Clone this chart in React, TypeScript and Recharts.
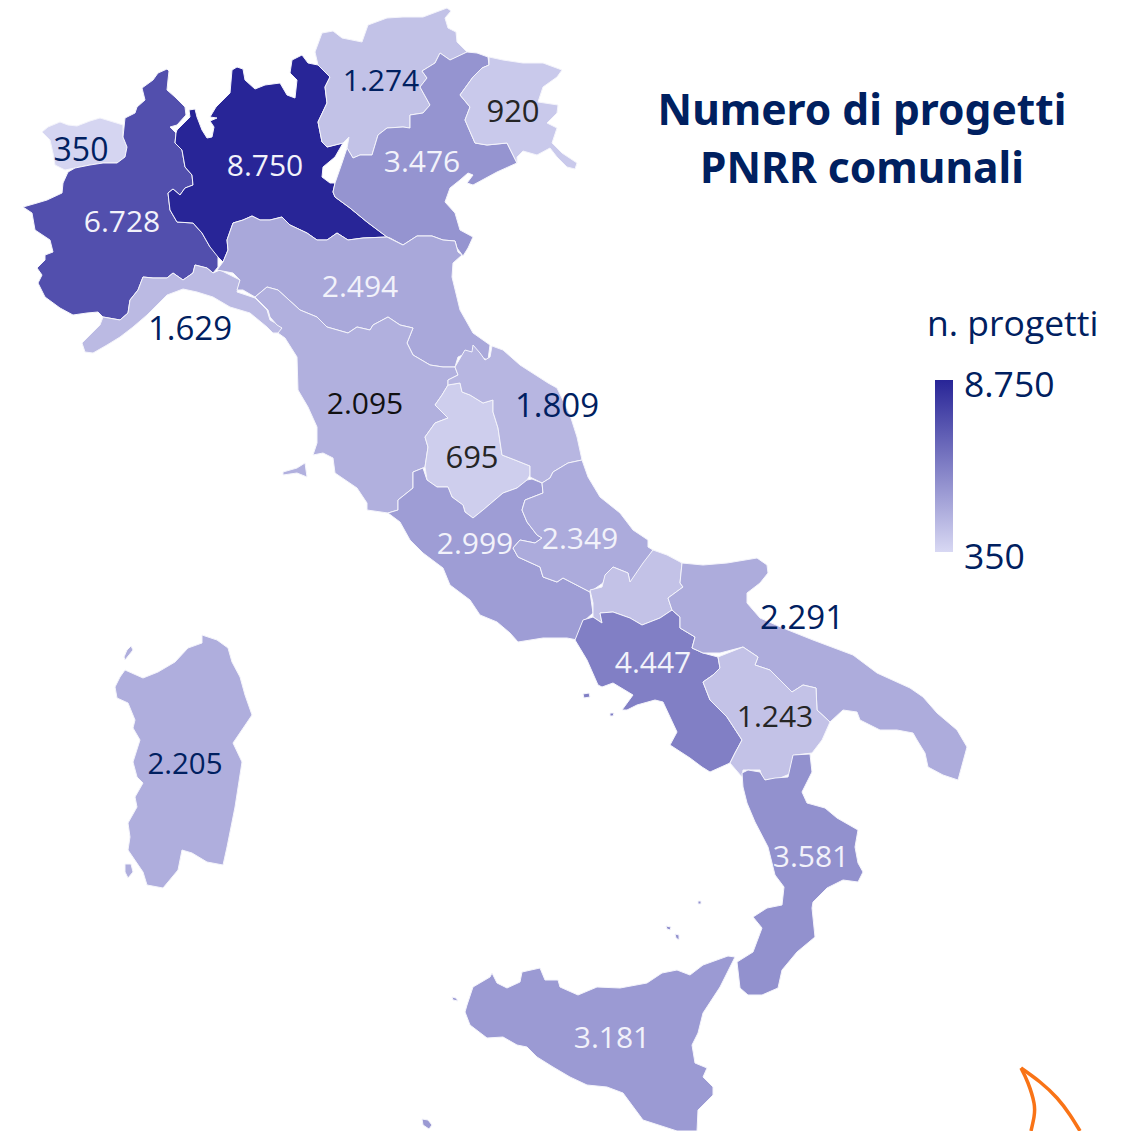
import { ScatterChart, Scatter, XAxis, YAxis, ReferenceArea } from "recharts";

type Pt = [number, number];

const aosta: Pt[] = [[42,132],[48,127],[60,122],[68,125],[77,126],[90,121],[100,118],[110,121],[123,125],[123,137],[127,147],[125,157],[117,163],[103,163],[90,165],[75,168],[65,170],[55,165],[53,153],[50,140],[42,132]];
const piemonte: Pt[] = [[167,69],[169,71],[168,80],[167,90],[175,97],[185,107],[186,115],[177,125],[170,127],[176,133],[175,143],[182,150],[185,167],[192,175],[193,185],[185,188],[180,195],[173,189],[168,193],[170,210],[177,222],[193,223],[202,233],[210,247],[218,255],[218,267],[213,273],[207,268],[195,265],[193,273],[183,280],[173,273],[167,278],[153,278],[143,277],[138,290],[130,300],[128,313],[120,320],[103,317],[98,312],[87,313],[73,315],[60,308],[45,297],[38,283],[42,275],[37,268],[45,260],[45,255],[53,252],[50,240],[35,230],[32,213],[23,207],[37,203],[47,200],[62,193],[63,183],[68,172],[75,168],[90,165],[103,163],[117,163],[125,157],[127,147],[123,137],[125,118],[135,113],[137,107],[145,100],[142,88],[153,80],[158,73],[167,69]];
const lombardia: Pt[] = [[177,130],[185,122],[190,117],[189,110],[195,109],[197,117],[202,130],[207,138],[212,137],[214,127],[210,121],[217,118],[210,117],[216,107],[230,93],[232,70],[237,67],[243,69],[245,80],[255,89],[265,85],[280,83],[287,95],[295,98],[297,80],[290,73],[292,60],[302,55],[308,63],[318,65],[330,77],[325,87],[327,103],[318,122],[322,142],[327,147],[343,143],[335,157],[323,167],[322,177],[330,183],[335,183],[333,192],[335,197],[350,208],[367,222],[387,237],[363,238],[348,240],[337,233],[327,240],[317,240],[307,233],[290,225],[282,217],[270,220],[260,220],[252,216],[243,220],[233,223],[227,240],[228,250],[223,262],[218,257],[210,247],[202,233],[193,223],[177,222],[170,210],[168,193],[173,189],[180,195],[185,188],[193,185],[192,175],[185,167],[182,150],[175,143],[176,133],[177,130]];
const trentino: Pt[] = [[315,52],[322,33],[333,31],[342,38],[362,42],[368,25],[387,18],[403,17],[423,17],[447,8],[451,11],[445,18],[448,28],[456,32],[457,42],[467,52],[457,57],[450,60],[440,53],[435,63],[422,71],[427,78],[420,87],[430,105],[423,113],[410,115],[410,128],[403,127],[387,128],[378,135],[372,155],[360,155],[353,158],[347,148],[349,137],[343,143],[327,147],[322,142],[318,122],[327,103],[325,87],[330,77],[318,65],[315,52]];
const veneto: Pt[] = [[440,53],[450,60],[467,52],[477,53],[488,57],[489,65],[482,68],[473,77],[460,95],[470,107],[465,120],[475,143],[487,145],[507,143],[517,163],[497,172],[473,185],[467,183],[473,175],[468,173],[460,180],[450,188],[445,202],[455,213],[460,230],[473,237],[468,248],[463,256],[457,248],[455,241],[443,240],[432,236],[417,236],[403,245],[390,238],[387,237],[367,222],[350,208],[335,197],[333,192],[335,183],[342,163],[347,148],[353,158],[360,155],[372,155],[378,135],[387,128],[403,127],[410,128],[410,115],[423,113],[430,105],[420,87],[427,78],[422,71],[435,63],[440,53]];
const friuli: Pt[] = [[489,57],[503,60],[523,63],[543,63],[562,70],[557,77],[543,87],[538,102],[558,105],[557,113],[547,123],[557,128],[552,143],[562,153],[577,163],[575,169],[567,167],[557,157],[550,148],[537,155],[523,151],[517,157],[517,163],[507,143],[487,145],[475,143],[465,120],[470,107],[460,95],[473,77],[482,68],[489,65],[489,57]];
const liguria: Pt[] = [[82,343],[100,325],[103,317],[120,320],[128,313],[130,300],[138,290],[143,277],[153,278],[167,278],[173,273],[183,280],[193,273],[195,265],[207,268],[213,273],[220,270],[240,280],[237,292],[255,298],[267,310],[270,320],[282,327],[280,333],[273,333],[267,327],[250,313],[230,307],[213,297],[197,292],[183,289],[167,295],[157,305],[147,315],[133,327],[120,337],[107,345],[93,353],[85,352],[82,343]];
const emilia: Pt[] = [[217,270],[223,262],[228,250],[227,240],[233,223],[243,220],[252,216],[260,220],[270,220],[282,217],[290,225],[307,233],[317,240],[327,240],[337,233],[348,240],[363,238],[387,237],[403,245],[417,236],[432,236],[443,240],[455,241],[458,252],[462,255],[453,263],[452,277],[460,310],[473,333],[490,345],[488,360],[480,357],[473,352],[467,353],[458,357],[455,367],[443,367],[430,365],[413,355],[407,343],[413,328],[400,325],[388,317],[373,325],[370,330],[357,327],[348,333],[327,327],[317,317],[300,310],[278,290],[267,287],[255,297],[243,290],[237,290],[240,280],[233,273],[217,270]];
const toscana: Pt[] = [[255,297],[267,287],[278,290],[300,310],[317,317],[327,327],[348,333],[357,327],[370,330],[373,325],[388,317],[400,325],[413,328],[407,343],[413,355],[430,365],[443,367],[455,367],[458,375],[448,380],[448,385],[442,395],[435,405],[448,418],[435,423],[425,437],[428,447],[425,467],[423,468],[413,472],[413,488],[398,500],[398,510],[388,513],[367,510],[367,503],[357,488],[335,473],[333,458],[323,453],[313,455],[317,443],[317,427],[308,407],[298,390],[297,357],[285,338],[278,333],[282,328],[277,325],[270,317],[268,310],[255,297]];
const elba: Pt[] = [[283,472],[297,468],[305,463],[307,477],[297,473],[283,475],[283,472]];
const umbria: Pt[] = [[448,385],[460,383],[462,392],[470,395],[483,403],[493,400],[493,412],[498,428],[502,455],[515,460],[530,466],[530,475],[527,480],[517,488],[503,493],[483,510],[473,518],[465,512],[463,505],[452,497],[448,487],[437,487],[427,480],[425,467],[428,447],[425,437],[435,423],[448,418],[435,405],[442,395],[448,385]];
const marche: Pt[] = [[455,367],[462,355],[465,350],[472,352],[473,345],[480,353],[485,360],[490,357],[492,346],[503,350],[520,365],[548,383],[557,388],[570,415],[577,437],[582,460],[568,463],[553,472],[550,478],[542,483],[530,477],[530,466],[515,460],[502,455],[498,428],[493,412],[493,400],[483,403],[470,395],[462,392],[460,383],[448,385],[448,380],[458,375],[455,367]];
const lazio: Pt[] = [[388,513],[398,510],[398,500],[413,488],[413,472],[423,468],[427,480],[437,487],[448,487],[452,497],[463,505],[465,512],[473,518],[483,510],[503,493],[517,488],[527,480],[532,479],[542,483],[543,493],[525,500],[522,510],[527,522],[537,535],[542,538],[535,543],[520,540],[513,548],[518,557],[540,567],[543,577],[557,582],[563,578],[590,592],[593,613],[583,622],[583,633],[577,640],[567,638],[543,638],[518,642],[510,633],[497,622],[480,615],[470,600],[450,585],[443,568],[423,553],[410,540],[400,522],[388,513]];
const abruzzo: Pt[] = [[542,483],[550,478],[553,472],[568,463],[582,460],[588,477],[600,497],[620,513],[633,530],[648,540],[648,547],[653,550],[642,567],[630,583],[628,573],[613,567],[607,573],[603,583],[590,592],[563,578],[557,582],[543,577],[540,567],[518,557],[513,548],[520,540],[535,543],[542,538],[537,535],[527,522],[522,510],[525,500],[543,493],[542,483]];
const molise: Pt[] = [[653,550],[667,555],[682,563],[680,583],[683,587],[668,598],[672,610],[660,618],[642,625],[630,618],[613,612],[600,613],[602,623],[593,617],[593,603],[590,590],[602,587],[605,575],[613,567],[628,573],[630,582],[643,563],[653,550]];
const campania: Pt[] = [[575,640],[583,620],[593,617],[602,623],[600,613],[613,612],[630,618],[642,625],[660,618],[672,610],[680,617],[680,628],[695,637],[692,648],[703,653],[718,657],[720,668],[713,675],[703,682],[710,700],[727,717],[742,740],[735,753],[730,763],[710,772],[702,767],[690,758],[670,745],[677,732],[663,702],[655,700],[637,705],[627,710],[622,710],[633,695],[613,683],[602,687],[598,685],[587,660],[575,640]];
const puglia: Pt[] = [[682,563],[703,565],[727,563],[757,558],[767,565],[768,573],[760,583],[747,593],[747,603],[760,618],[783,628],[813,640],[853,655],[877,673],[910,688],[923,697],[937,713],[957,730],[967,747],[958,780],[943,775],[928,767],[925,753],[917,740],[913,733],[897,730],[880,730],[860,720],[857,712],[843,710],[830,722],[817,710],[816,688],[803,685],[792,692],[770,670],[755,665],[758,657],[743,647],[720,653],[703,653],[692,648],[695,637],[680,628],[680,617],[672,610],[668,598],[683,587],[680,583],[682,563]];
const basilicata: Pt[] = [[718,657],[743,647],[758,657],[755,665],[770,670],[792,692],[803,685],[816,688],[817,710],[830,722],[822,740],[812,753],[795,755],[792,773],[780,778],[763,780],[760,770],[743,770],[742,777],[730,763],[735,753],[742,740],[727,717],[710,700],[703,682],[713,675],[720,668],[718,657]];
const calabria: Pt[] = [[742,773],[748,770],[760,772],[765,780],[775,778],[788,777],[793,755],[810,754],[812,772],[802,792],[807,803],[825,808],[837,818],[858,830],[855,847],[858,863],[863,872],[858,882],[843,880],[827,888],[813,902],[812,908],[815,937],[797,952],[782,970],[778,988],[762,995],[748,995],[740,988],[737,962],[753,952],[762,928],[753,917],[767,908],[782,905],[784,887],[775,875],[768,847],[755,822],[747,803],[743,787],[742,773]];
const sicilia: Pt[] = [[467,1005],[473,987],[490,977],[492,973],[497,983],[507,988],[520,982],[522,972],[540,968],[545,980],[558,980],[560,987],[578,995],[597,987],[620,988],[647,983],[662,973],[677,970],[690,975],[703,965],[728,956],[735,957],[720,987],[703,1013],[698,1033],[692,1045],[695,1063],[707,1068],[703,1077],[713,1087],[713,1095],[698,1110],[697,1131],[677,1131],[643,1120],[623,1093],[607,1087],[587,1085],[570,1077],[553,1067],[537,1057],[527,1047],[517,1045],[503,1037],[487,1038],[470,1025],[465,1012],[467,1005]];
const sardegna: Pt[] = [[120,677],[125,670],[143,678],[158,672],[175,662],[188,648],[202,643],[202,635],[217,640],[228,648],[232,662],[240,677],[245,695],[252,715],[233,743],[242,762],[235,807],[227,847],[223,865],[207,862],[192,853],[182,850],[178,870],[163,888],[147,885],[143,872],[128,850],[130,837],[128,823],[137,807],[135,797],[143,783],[137,777],[133,762],[140,740],[133,728],[135,720],[128,703],[117,698],[115,687],[120,677]];
const antioco: Pt[] = [[125,864],[131,864],[133,872],[128,878],[125,872],[125,864]];
const asinara: Pt[] = [[127,650],[131,646],[133,650],[125,660],[124,657],[127,650]];
const pantelleria: Pt[] = [[422,1119],[428,1120],[432,1125],[429,1129],[423,1125],[422,1119]];
const ischia: Pt[] = [[583,694],[589,693],[590,697],[584,698],[583,694]];
const capri: Pt[] = [[610,713],[614,713],[613,716],[610,716],[610,713]];
const eolie: Pt[] = [[666,926],[671,927],[670,930],[667,929],[666,926]];
const salina: Pt[] = [[675,934],[679,935],[679,940],[676,938],[675,934]];
const stromboli: Pt[] = [[698,901],[701,901],[701,904],[698,904],[698,901]];
const egadi: Pt[] = [[452,997],[456,998],[458,1001],[453,1000],[452,997]];
const logoLeft: Pt[] = [[1021,1068],[1028,1083],[1034,1103],[1034,1117],[1031,1131]];
const logoRight: Pt[] = [[1021,1068],[1040,1082],[1057,1098],[1070,1115],[1080,1131]];

const values = [350, 6728, 8750, 1274, 3476, 920, 1629, 2494, 2095, 695, 1809, 2999, 2349, 1243, 4447, 2291, 1243, 3581, 3181, 2205];
const regions: Pt[][][] = [[aosta],[piemonte],[lombardia],[trentino],[veneto],[friuli],[liguria],[emilia],[toscana,elba],[umbria],[marche],[lazio],[abruzzo],[molise],[campania,ischia,capri],[puglia],[basilicata],[calabria,eolie,salina,stromboli],[sicilia,pantelleria,egadi],[sardegna,antioco,asinara]];

const labelValues = [350, 6728, 8750, 1274, 920, 3476, 2494, 1629, 2095, 1809, 695, 2999, 2349, 4447, 2291, 1243, 2205, 3581, 3181];
const labelAnchors: Pt[] = [[81,148],[122,220],[265,164],[381,79],[513,110],[422,160],[360,285],[190,327],[365,402],[557,404],[472,456],[475,542],[580,537],[653,661],[802,616],[775,715],[185,762],[811,855],[612,1036]];
const labelColors = ["#002060","#f2f2fa","#f2f2fa","#002060","#252525","#f2f2fa","#f2f2fa","#002060","#111111","#002060","#252525","#f2f2fa","#f2f2fa","#f2f2fa","#002060","#252525","#002060","#f2f2fa","#f2f2fa"];
const labelSizes = [32, 30, 30, 30, 31, 30, 30, 33, 30, 33, 31, 30, 30, 30, 33, 30, 29.5, 30, 30];

const titleLines = ["Numero di progetti", "PNRR comunali"];
const titleAnchors: Pt[] = [[862,108],[862,166]];
const scaleLabels = ["n. progetti", "8.750", "350"];
const scaleAnchors: Pt[] = [[927,322],[964,383],[964,555]];

const LOW = [213, 213, 241];
const HIGH = [40, 37, 151];
const MIN_VALUE = 350;
const MAX_VALUE = 8750;

const regionColor = (value: number) => {
  const t = (value - MIN_VALUE) / (MAX_VALUE - MIN_VALUE);
  const c = LOW.map((l, i) => Math.round(l + (HIGH[i] - l) * t));
  return `rgb(${c[0]},${c[1]},${c[2]})`;
};

const toPoints = (outline: Pt[]) => outline.map(([x, y]) => ({ x, y }));
const formatValue = (v: number) => String(v).replace(/\B(?=(\d{3})+$)/g, ".");
const noDot = () => <g />;

const FONT = '"Noto Sans", sans-serif';
const LABEL_FONT = '"Open Sans", sans-serif';

const labelData = labelValues.map((v, i) => ({ x: labelAnchors[i][0], y: labelAnchors[i][1], text: formatValue(v), color: labelColors[i], size: labelSizes[i] }));
const titleData = titleLines.map((text, i) => ({ x: titleAnchors[i][0], y: titleAnchors[i][1], text }));
const scaleData = scaleLabels.map((text, i) => ({ x: scaleAnchors[i][0], y: scaleAnchors[i][1], text }));

export default function App() {
  return (
    <div style={{ position: "absolute", left: 0, top: 0, width: 1125, height: 1131, background: "#fff" }}>
      <ScatterChart width={1125} height={1131} margin={{ top: 0, right: 0, bottom: 0, left: 0 }}>
        <defs>
          <linearGradient id="scale" x1="0" y1="0" x2="0" y2="1">
            <stop offset="0%" stopColor="rgb(40,37,151)" />
            <stop offset="100%" stopColor="rgb(216,216,243)" />
          </linearGradient>
        </defs>
        <XAxis type="number" dataKey="x" domain={[0, 1125]} hide />
        <YAxis type="number" dataKey="y" domain={[0, 1131]} reversed hide />
        {regions.flatMap((parts, r) =>
          parts.map((outline, p) => (
            <Scatter
              key={`${r}-${p}`}
              data={toPoints(outline)}
              fill={regionColor(values[r])}
              line={{ fill: regionColor(values[r]), stroke: "#f4f4fb", strokeWidth: 1 }}
              lineType="joint"
              shape={noDot}
              isAnimationActive={false}
            />
          ))
        )}
        <Scatter data={toPoints(logoLeft)} line={{ fill: "none", stroke: "#f97316", strokeWidth: 3.5 }} lineType="joint" lineJointType="natural" shape={noDot} isAnimationActive={false} />
        <Scatter data={toPoints(logoRight)} line={{ fill: "none", stroke: "#f97316", strokeWidth: 3.5 }} lineType="joint" lineJointType="natural" shape={noDot} isAnimationActive={false} />
        <ReferenceArea x1={935} x2={953} y1={380} y2={552} fill="url(#scale)" fillOpacity={1} stroke="none" />
        <Scatter
          data={labelData}
          isAnimationActive={false}
          shape={(p: any) => (
            <text x={p.cx} y={p.cy} textAnchor="middle" dominantBaseline="central" fontFamily={LABEL_FONT} fontSize={p.payload.size} fill={p.payload.color}>
              {p.payload.text}
            </text>
          )}
        />
        <Scatter
          data={titleData}
          isAnimationActive={false}
          shape={(p: any) => (
            <text x={p.cx} y={p.cy} textAnchor="middle" dominantBaseline="central" fontFamily={FONT} fontWeight={700} fontSize={42.5} fill="#002060">
              {p.payload.text}
            </text>
          )}
        />
        <Scatter
          data={scaleData}
          isAnimationActive={false}
          shape={(p: any) => (
            <text x={p.cx} y={p.cy} textAnchor="start" dominantBaseline="central" fontFamily={LABEL_FONT} fontSize={35.5} fill="#002060">
              {p.payload.text}
            </text>
          )}
        />
      </ScatterChart>
    </div>
  );
}
